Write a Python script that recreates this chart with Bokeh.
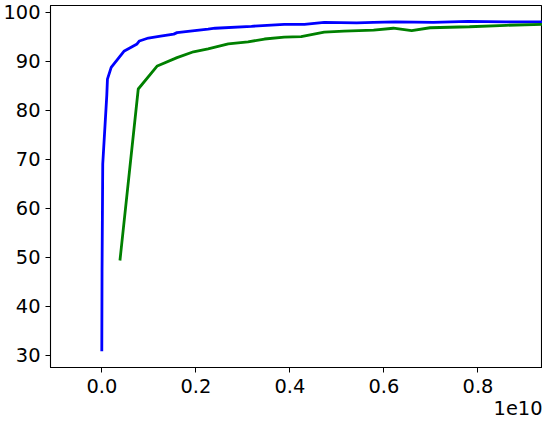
from bokeh.plotting import figure
from bokeh.models import FixedTicker, Title, Range1d
from bokeh.embed import file_html
from bokeh.resources import INLINE

# Data (x in units of 1e9)
blue_x = [0.0, 0.005, 0.02, 0.106, 0.12, 0.20, 0.47, 0.75, 0.80, 0.99, 1.25, 1.53, 1.60,
          1.88, 2.26, 2.41, 3.18, 3.88, 4.31, 4.73, 5.42, 5.78, 6.24, 7.05, 7.79, 8.59, 9.37, 9.6]
blue_y = [30.8, 47.0, 69.0, 83.0, 86.3, 88.7, 92.0, 93.5, 94.1, 94.7, 95.1, 95.5, 95.8,
          96.1, 96.5, 96.7, 97.1, 97.5, 97.5, 97.9, 97.8, 97.9, 98.0, 97.9, 98.1, 98.0, 98.0, 98.0]
green_x = [0.386, 0.775, 1.18, 1.60, 1.95, 2.26, 2.69, 3.11, 3.46, 3.88, 4.24, 4.73, 5.15,
           5.78, 6.20, 6.59, 6.98, 7.82, 8.60, 9.37, 9.6]
green_y = [49.3, 84.3, 89.0, 90.7, 91.9, 92.5, 93.5, 93.9, 94.5, 94.9, 95.0, 95.9, 96.1,
           96.3, 96.7, 96.2, 96.8, 97.0, 97.3, 97.5, 97.6]

x_ticks = [0.0, 2e9, 4e9, 6e9, 8e9]
x_tick_labels = ["0.0", "0.2", "0.4", "0.6", "0.8"]
y_ticks = [30, 40, 50, 60, 70, 80, 90, 100]
offset_text = "1e10"

bx = [v * 1e9 for v in blue_x]
gx = [v * 1e9 for v in green_x]

FONT = "DejaVu Sans"
FS = "19.4px"
X_END = 9.372e9

p = figure(width=542, height=420, output_backend="svg", toolbar_location=None,
           x_range=Range1d(-1.091e9, X_END), y_range=Range1d(27.46, 101.34),
           min_border_left=46, min_border_right=0, min_border_top=5, min_border_bottom=53)

p.line(bx, blue_y, line_color="#0000ff", line_width=2.8)
p.line(gx, green_y, line_color="#008000", line_width=2.8)

p.xgrid.visible = False
p.ygrid.visible = False
p.outline_line_color = "black"
p.outline_line_width = 1.1
p.background_fill_color = "white"
p.border_fill_color = "white"

p.xaxis.ticker = FixedTicker(ticks=x_ticks)
p.xaxis.major_label_overrides = {t: l for t, l in zip(x_ticks, x_tick_labels)}
p.yaxis.ticker = FixedTicker(ticks=y_ticks)

for ax in (p.xaxis, p.yaxis):
    ax.minor_tick_line_color = None
    ax.major_tick_in = 0
    ax.major_tick_out = 5
    ax.major_tick_line_color = "black"
    ax.axis_line_color = "black"
    ax.major_label_text_font = FONT
    ax.major_label_text_font_size = FS
    ax.major_label_text_color = "black"
p.xaxis.major_label_standoff = 6
p.yaxis.major_label_standoff = 5

t = Title(text=offset_text, align="right", text_font=FONT, text_font_size=FS,
          text_font_style="normal", text_color="black", standoff=6, offset=0)
p.add_layout(t, "below")

open("out.html", "w").write(file_html(p, INLINE))
